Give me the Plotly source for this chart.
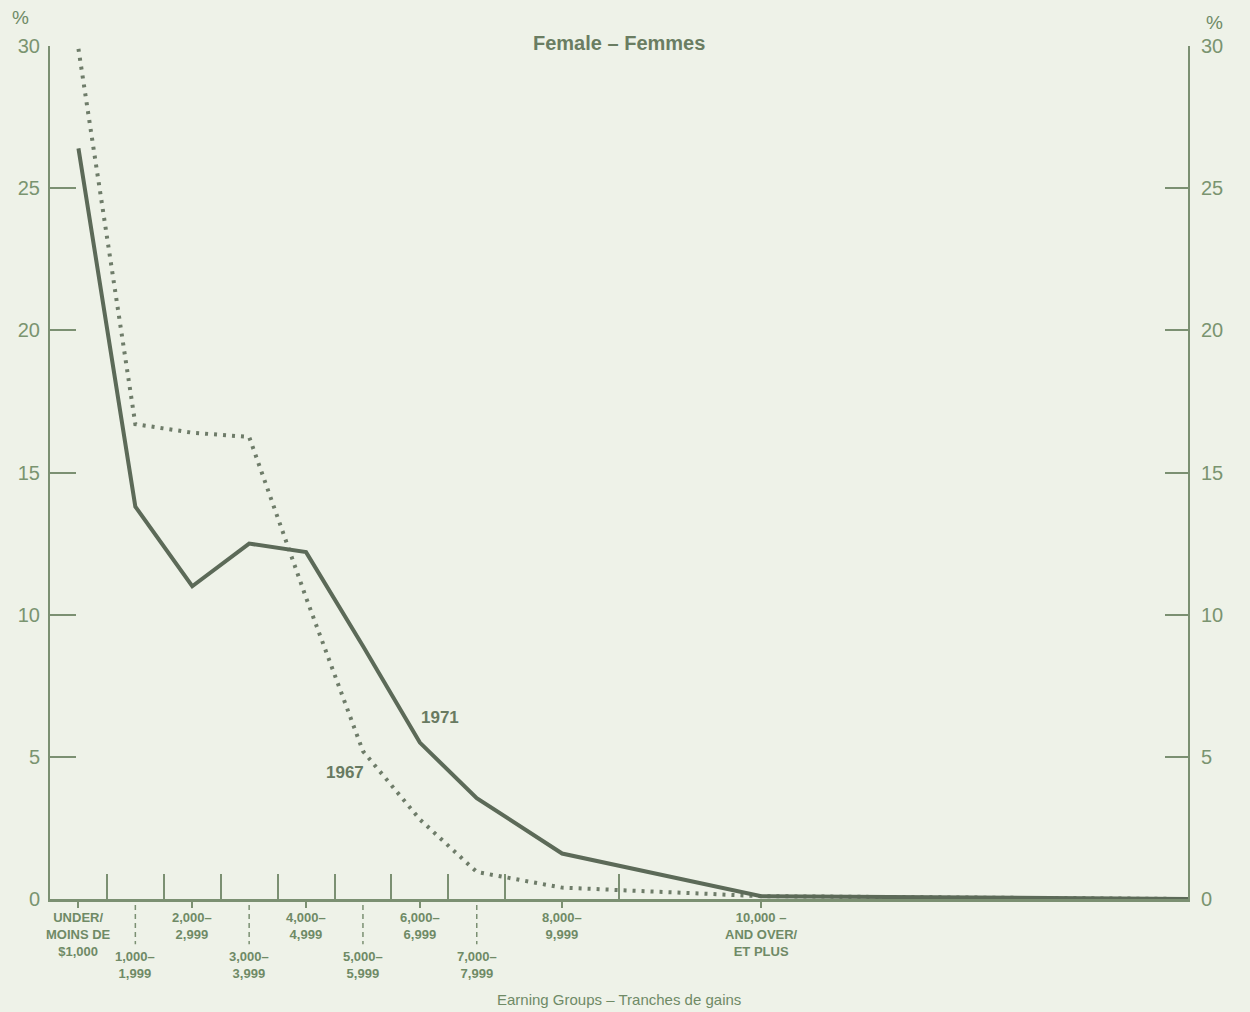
import plotly.graph_objects as go

# Earnings in $1,000 units
group_mid = [0.5, 1.5, 2.5, 3.5, 4.5, 5.5, 6.5, 7.5, 9, 12.5, 20]
boundaries = [1, 2, 3, 4, 5, 6, 7, 8, 10]
share_1971 = [26.4, 13.8, 11.0, 12.5, 12.2, 8.9, 5.5, 3.55, 1.6, 0.1, 0.0]
share_1967 = [29.9, 16.7, 16.4, 16.25, 10.6, 5.2, 2.8, 0.95, 0.4, 0.1, 0.0]

upper_labels_x = [0.5, 2.5, 4.5, 6.5, 9, 12.5]
upper_labels = ["UNDER/<br>MOINS DE<br>$1,000", "2,000–<br>2,999", "4,000–<br>4,999",
                "6,000–<br>6,999", "8,000–<br>9,999", "10,000 –<br>AND OVER/<br>ET PLUS"]
lower_labels_x = [1.5, 3.5, 5.5, 7.5]
lower_labels = ["1,000–<br>1,999", "3,000–<br>3,999", "5,000–<br>5,999", "7,000–<br>7,999"]
y_ticks = [0, 5, 10, 15, 20, 25, 30]

BG = "#eef2e8"
AXC = "#7b9072"
TXT = "#6f8a66"
LINE71 = "#5c6a58"
LINE67 = "#6e7c69"
FONT = "Liberation Sans, Arial, sans-serif"

fig = go.Figure()
fig.add_trace(go.Scatter(x=group_mid, y=share_1967, mode="lines", name="1967",
                         line=dict(color=LINE67, width=4, dash="3px,6px"),
                         showlegend=False, hoverinfo="skip"))
fig.add_trace(go.Scatter(x=group_mid, y=share_1971, mode="lines", name="1971",
                         line=dict(color=LINE71, width=4),
                         showlegend=False, hoverinfo="skip"))
fig.add_trace(go.Scatter(x=[0], y=[0], yaxis="y2", xaxis="x2", mode="markers",
                         marker=dict(opacity=0), showlegend=False, hoverinfo="skip"))

annotations = []
for xv, t in zip(upper_labels_x, upper_labels):
    annotations.append(dict(x=xv, y=-0.011, xref="x", yref="paper", text=t, showarrow=False,
                            yanchor="top", xanchor="center", align="center",
                            font=dict(family=FONT, size=13, color=TXT, weight="bold")))
for xv, t in zip(lower_labels_x, lower_labels):
    annotations.append(dict(x=xv, y=-0.056, xref="x", yref="paper", text=t, showarrow=False,
                            yanchor="top", xanchor="center", align="center",
                            font=dict(family=FONT, size=13, color=TXT, weight="bold")))
annotations += [
    dict(x=0.5, y=1.0, xref="paper", yref="paper", text="<b>Female – Femmes</b>", showarrow=False,
         yanchor="middle", yshift=3, font=dict(family=FONT, size=20, color="#6a7d62")),
    dict(x=6.85, y=6.4, xref="x", yref="y", text="<b>1971</b>", showarrow=False,
         font=dict(family=FONT, size=17, color="#687a61")),
    dict(x=5.18, y=4.45, xref="x", yref="y", text="<b>1967</b>", showarrow=False,
         font=dict(family=FONT, size=17, color="#687a61")),
    dict(x=-0.026, y=1.033, xref="paper", yref="paper", text="%", showarrow=False,
         yanchor="middle", xanchor="center", font=dict(family=FONT, size=19, color=TXT)),
    dict(x=1.0237, y=1.028, xref="paper", yref="paper", text="%", showarrow=False,
         yanchor="middle", xanchor="center", font=dict(family=FONT, size=19, color=TXT)),
    dict(x=0.5, y=-0.118, xref="paper", yref="paper", text="Earning Groups – Tranches de gains",
         showarrow=False, yanchor="middle", xanchor="center",
         font=dict(family=FONT, size=15, color=TXT)),
]

shapes = []
for xv in lower_labels_x:
    shapes.append(dict(type="line", xref="x", yref="paper", x0=xv, x1=xv, y0=-0.007, y1=-0.053,
                       line=dict(color=AXC, width=1.5, dash="5px,4px")))

fig.update_layout(
    width=1250, height=1012,
    margin=dict(l=50, r=62, t=46, b=113),
    paper_bgcolor=BG, plot_bgcolor=BG,
    xaxis=dict(range=[0, 20], showgrid=False, zeroline=False, showline=True, linecolor=AXC,
               linewidth=2.5, ticks="inside", tickvals=boundaries, ticklen=25, tickwidth=1.5,
               tickcolor=AXC, showticklabels=False, fixedrange=True),
    xaxis2=dict(range=[0, 20], overlaying="x", side="bottom", anchor="y", showgrid=False,
                zeroline=False, showline=False, ticks="outside", tickvals=upper_labels_x,
                ticklen=8, tickwidth=1.5, tickcolor=AXC, showticklabels=False),
    yaxis=dict(range=[0, 30], showgrid=False, zeroline=False, showline=True, linecolor=AXC,
               linewidth=2, ticks="inside", tickvals=y_ticks, ticklen=26, tickwidth=2,
               tickcolor=AXC, ticklabelstandoff=4,
               tickfont=dict(family=FONT, size=20, color="#7a9470")),
    yaxis2=dict(range=[0, 30], overlaying="y", side="right", anchor="x", showgrid=False,
                zeroline=False, showline=True, linecolor=AXC, linewidth=2, ticks="inside",
                tickvals=y_ticks, ticklen=23, tickwidth=2, tickcolor=AXC, ticklabelstandoff=7,
                tickfont=dict(family=FONT, size=20, color="#7a9470")),
    annotations=annotations,
    shapes=shapes,
    showlegend=False,
)

fig.write_html("out.html", config={"displayModeBar": False},
               post_script="document.body.style.margin='0';document.body.style.background='%s';" % BG)
